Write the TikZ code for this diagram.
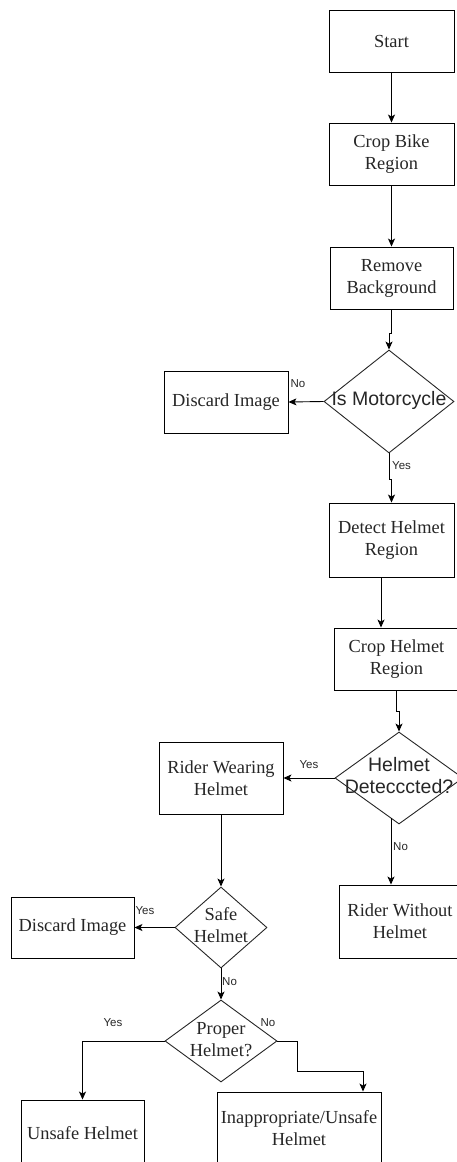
\documentclass[tikz,border=0pt]{standalone}
\usepackage{fontspec}
\setmainfont{Liberation Serif}
\newfontfamily\labelsans{Liberation Sans}
\usetikzlibrary{shapes.geometric,arrows.meta,calc}

\tikzset{
  procbox/.style={draw=black, line width=0.9pt, rectangle, inner sep=0pt,
    align=center, text=black!85, font=\fontsize{18.4}{22}\selectfont},
  decision/.style={draw=black!85, line width=0.9pt, diamond, aspect=1, inner sep=0pt,
    text=black!85},
  serifdec/.style={decision, font=\fontsize{18.4}{22}\selectfont},
  sansdec/.style={decision, font=\labelsans\fontsize{19.5}{22}\selectfont},
  arr/.style={draw=black, line width=0.9pt, -{Stealth[length=8pt,width=7pt,inset=2pt]}},
  edgelabel/.style={inner sep=0pt, text=black!85, font=\labelsans\fontsize{11.5}{13}\selectfont}
}

\newcommand{\dtext}[1]{\makebox[0pt]{\begin{tabular}{@{}c@{}}#1\end{tabular}}}

\begin{document}
\begin{tikzpicture}[x=1pt,y=-1pt]
  \useasboundingbox (0,0) rectangle (457,1162);
  \clip (0,0) rectangle (457,1162);

  % main column
  \node[procbox, minimum width=125pt, minimum height=62pt] (start) at (391.5,41) {Start};
  \node[procbox, minimum width=125pt, minimum height=62pt] (cropbike) at (391.5,154) {Crop Bike\\Region};
  \node[procbox, minimum width=123pt, minimum height=62pt] (removebg) at (391.5,278) {Remove\\Background};
  \node[sansdec, minimum width=130pt, minimum height=103pt] (ismoto) at (389,401.5) {\dtext{Is Motorcycle}};
  \node[procbox, minimum width=124pt, minimum height=62pt] (discard1) at (226,402) {Discard Image};
  \node[procbox, minimum width=125pt, minimum height=74pt] (detecthelmet) at (391.5,540) {Detect Helmet\\Region};
  \node[procbox, minimum width=125pt, minimum height=62pt] (crophelmet) at (396.5,659) {Crop Helmet\\Region};
  \node[sansdec, minimum width=128pt, minimum height=92pt] (helmetdet) at (399,778) {\dtext{Helmet\\Detecccted?}};
  \node[procbox, minimum width=124pt, minimum height=72pt] (wearing) at (221,778) {Rider Wearing\\Helmet};
  \node[procbox, minimum width=122pt, minimum height=73pt] (without) at (400,921.5) {Rider Without\\Helmet};

  % safety checks
  \node[serifdec, minimum width=92pt, minimum height=81pt] (safe) at (221,927.5) {\dtext{Safe\\Helmet}};
  \node[procbox, minimum width=123pt, minimum height=61pt] (discard2) at (72.5,927.5) {Discard Image};
  \node[serifdec, minimum width=112pt, minimum height=82pt] (proper) at (221,1041) {\dtext{Proper\\Helmet?}};
  \node[procbox, minimum width=123pt, minimum height=66pt] (unsafe) at (82.5,1133) {Unsafe Helmet};
  \node[procbox, minimum width=164pt, minimum height=72pt] (inapprop) at (299,1128) {Inappropriate/Unsafe\\Helmet};

  % exit point on the lower-left edge of the helmet decision
  \coordinate (hdexit) at ($(helmetdet.south)+(-8,-6)$);

  % connectors
  \draw[arr] (start.south) -- (cropbike.north);
  \draw[arr] (cropbike.south) -- (removebg.north);
  \draw[arr] (removebg.south) -- ++(0,24) -| (ismoto.north);
  \draw[arr] (ismoto.west) -- (discard1.east);
  \draw[arr] (ismoto.south) -- ++(0,26) -| (detecthelmet.north);
  \draw[arr] ([xshift=-10.5pt]detecthelmet.south) -- ([xshift=-10.5pt]detecthelmet.south |- crophelmet.north);
  \draw[arr] (crophelmet.south) -- ++(0,21) -| (helmetdet.north);
  \draw[arr] (helmetdet.west) -- (wearing.east);
  \draw[arr] (hdexit) -- (hdexit |- without.north);
  \draw[arr] (wearing.south) -- (safe.north);
  \draw[arr] (safe.west) -- (discard2.east);
  \draw[arr] (safe.south) -- (proper.north);
  \draw[arr] (proper.west) -| (unsafe.north);
  \draw[arr] (proper.east) -- ++(20,0) -- ++(0,30) -| ([xshift=64pt]inapprop.north);

  % branch labels
  \node[edgelabel] (lno1) at (298,384) {No};
  \node[edgelabel, anchor=west] (lyes1) at (392,466) {Yes};
  \node[edgelabel] (lyes2) at (309,765) {Yes};
  \node[edgelabel, anchor=west] (lno2) at (393,847) {No};
  \node[edgelabel] (lyes3) at (145,911) {Yes};
  \node[edgelabel, anchor=west] (lno3) at (222,982) {No};
  \node[edgelabel] (lyes4) at (113,1023) {Yes};
  \node[edgelabel] (lno4) at (268,1023) {No};
\end{tikzpicture}
\end{document}
